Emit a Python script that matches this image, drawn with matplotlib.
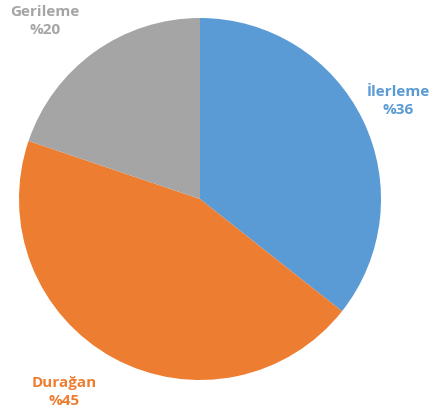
import matplotlib.pyplot as plt

labels = ["İlerleme", "Durağan", "Gerileme"]
values = [36, 45, 20]
colors = ["#5B9BD5", "#ED7D31", "#A5A5A5"]

fig = plt.figure(figsize=(4.38, 4.19), dpi=100)
ax = fig.add_axes([0, 0, 1, 1])

ax.pie(values, colors=colors, startangle=90, counterclock=False,
       center=(200, 220), radius=181, frame=True,
       wedgeprops=dict(linewidth=0))
ax.set_xlim(0, 438)
ax.set_ylim(0, 419)
ax.set_aspect("equal")
ax.axis("off")

# label positions (x, y) in pixel-like coordinates
label_pos = [(398, 318), (64, 27), (45, 398)]
for lab, val, col, (x, y) in zip(labels, values, colors, label_pos):
    ax.text(x, y, f"{lab}\n%{val}", color=col, ha="center", va="center",
            fontsize=11, fontweight="bold", family="Open Sans", linespacing=1.35)

fig.savefig("out.png", dpi=100)
